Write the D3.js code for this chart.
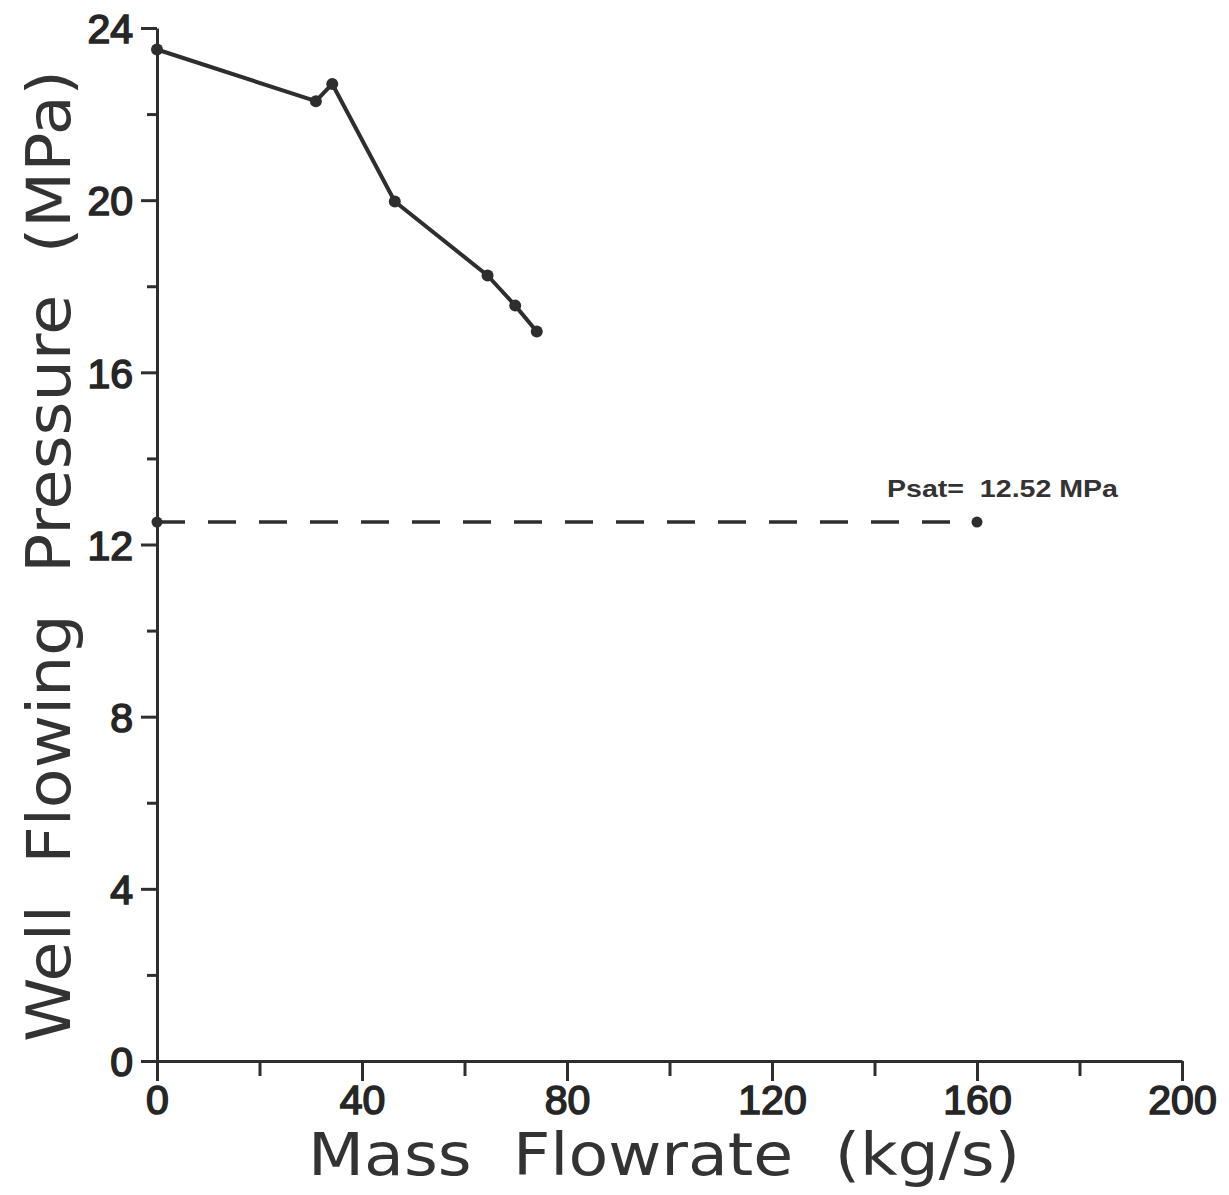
<!DOCTYPE html>
<html>
<head>
<meta charset="utf-8">
<script src="https://cdn.jsdelivr.net/npm/d3@7"></script>
<style>
  html, body { margin: 0; padding: 0; background: #fff; }
  svg { display: block; }
</style>
</head>
<body>
<svg id="chart" width="1229" height="1195"></svg>
<script>
// ---- data ----
const massFlow = [0, 31, 34.2, 46.4, 64.5, 69.9, 74.1];
const pressure = [23.5, 22.3, 22.7, 19.97, 18.25, 17.55, 16.95];
const psatValue = 12.52;
const psatRange = [0, 160];
const xTicks = [0, 20, 40, 60, 80, 100, 120, 140, 160, 180, 200];
const xTickLabels = ["0", "", "40", "", "80", "", "120", "", "160", "", "200"];
const yTicks = [0, 2, 4, 6, 8, 10, 12, 14, 16, 18, 20, 22, 24];
const yTickLabels = ["0", "", "4", "", "8", "", "12", "", "16", "", "20", "", "24"];
const xTitle = "Mass  Flowrate  (kg/s)";
const yTitle = "Well  Flowing  Pressure  (MPa)";
const psatLabel = "Psat=  12.52 MPa";

// ---- drawing ----
const svg = d3.select("#chart");
const ink = "#2e2e2e";
const x = d3.scaleLinear().domain([0, 200]).range([157, 1182]);
const y = d3.scaleLinear().domain([0, 24]).range([1061, 28]);

const tickFont = sel => sel
  .attr("fill", "#262626").attr("stroke", "#262626").attr("stroke-width", 1.6)
  .style("font-family", "'Liberation Sans', Arial, sans-serif")
  .style("font-size", "41px").style("font-weight", "400");

// x axis
const xAxis = d3.axisBottom(x)
  .tickValues(xTicks)
  .tickSizeOuter(0)
  .tickSize(0)
  .tickFormat((d, i) => xTickLabels[i]);
const gx = svg.append("g").attr("transform", `translate(0,${y(0)})`).call(xAxis);
gx.select(".domain").attr("stroke", ink).attr("stroke-width", 3);
gx.selectAll(".tick line")
  .attr("stroke", ink).attr("stroke-width", 3)
  .attr("y2", (d, i) => xTickLabels[i] ? 20 : 15);
gx.selectAll(".tick text")
  .attr("y", 24).attr("dy", "0.71em")
  .call(tickFont);

// y axis
const yAxis = d3.axisLeft(y)
  .tickValues(yTicks)
  .tickSizeOuter(0)
  .tickSize(0)
  .tickFormat((d, i) => yTickLabels[i]);
const gy = svg.append("g").attr("transform", `translate(${x(0)},0)`).call(yAxis);
gy.select(".domain").attr("stroke", ink).attr("stroke-width", 3);
gy.selectAll(".tick line")
  .attr("stroke", ink).attr("stroke-width", 3)
  .attr("x2", (d, i) => yTickLabels[i] ? -16 : -10);
gy.selectAll(".tick text")
  .attr("x", -24).attr("dy", "0.36em")
  .call(tickFont);

// psat dashed line
svg.append("line")
  .attr("x1", x(psatRange[0])).attr("x2", x(psatRange[1]))
  .attr("y1", y(psatValue)).attr("y2", y(psatValue))
  .attr("stroke", ink).attr("stroke-width", 3.5)
  .attr("stroke-dasharray", "28,23");
svg.selectAll("circle.psat")
  .data(psatRange).enter().append("circle")
  .attr("class", "psat")
  .attr("cx", d => x(d)).attr("cy", y(psatValue)).attr("r", 5.5)
  .attr("fill", ink);
svg.append("text")
  .attr("x", 887).attr("y", y(psatValue) - 25)
  .attr("fill", "#333")
  .style("font-family", "'Liberation Sans', Arial, sans-serif")
  .style("font-size", "24px").style("font-weight", "700")
  .attr("textLength", 231).attr("lengthAdjust", "spacingAndGlyphs")
  .attr("xml:space", "preserve")
  .text(psatLabel);

// data line
const pts = massFlow.map((m, i) => [m, pressure[i]]);
svg.append("path")
  .datum(pts)
  .attr("fill", "none").attr("stroke", ink).attr("stroke-width", 4)
  .attr("stroke-linejoin", "round")
  .attr("d", d3.line().x(d => x(d[0])).y(d => y(d[1])));
svg.selectAll("circle.pt")
  .data(pts).enter().append("circle")
  .attr("class", "pt")
  .attr("cx", d => x(d[0])).attr("cy", d => y(d[1])).attr("r", 6)
  .attr("fill", ink);

// titles
svg.append("text")
  .attr("x", 308).attr("y", 1175)
  .attr("fill", "#333")
  .style("font-family", "'DejaVu Sans', sans-serif")
  .style("font-size", "58px").style("font-weight", "400")
  .attr("textLength", 712).attr("lengthAdjust", "spacingAndGlyphs")
  .attr("xml:space", "preserve")
  .text(xTitle);
svg.append("text")
  .attr("transform", "translate(70,1042) rotate(-90)")
  .attr("x", 0).attr("y", 0)
  .attr("fill", "#333")
  .style("font-family", "'DejaVu Sans', sans-serif")
  .style("font-size", "60px").style("font-weight", "400")
  .attr("textLength", 972).attr("lengthAdjust", "spacingAndGlyphs")
  .attr("xml:space", "preserve")
  .text(yTitle);
</script>
</body>
</html>
